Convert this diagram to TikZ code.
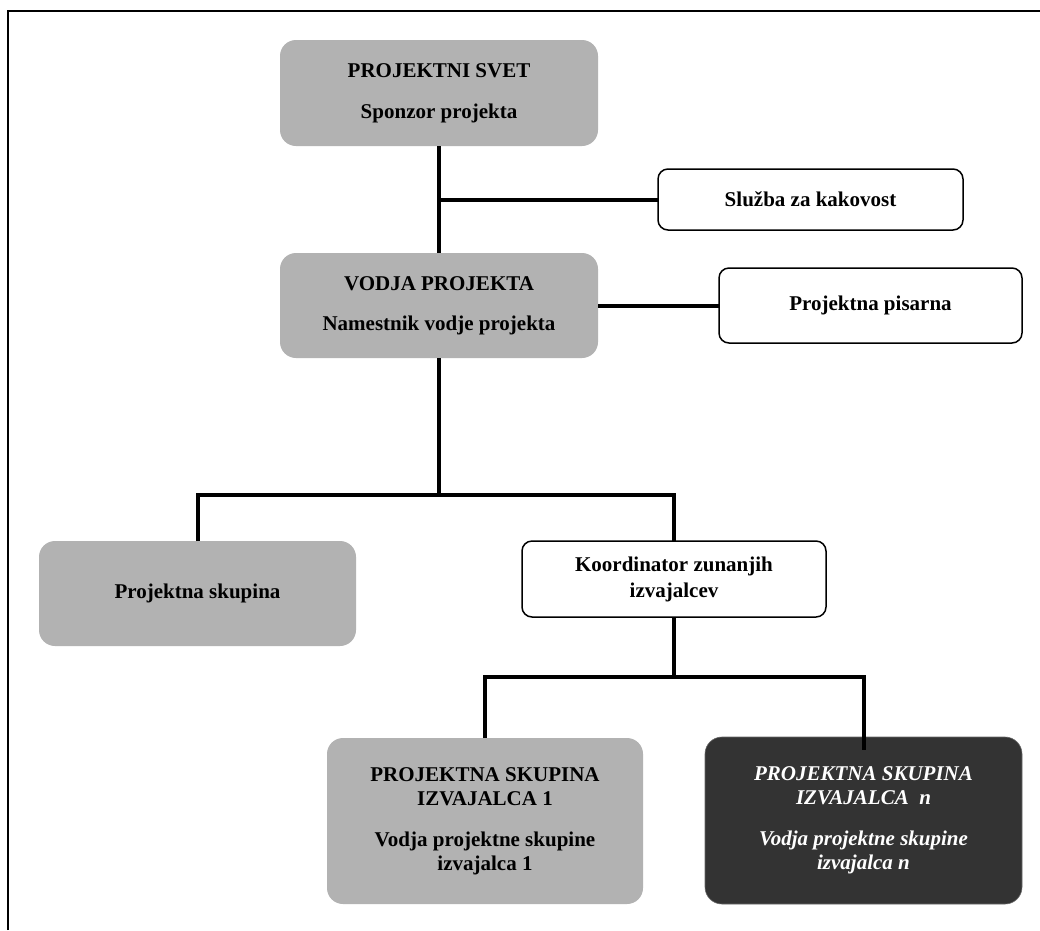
\documentclass[tikz,border=0pt]{standalone}
\usepackage{fontspec}
\setmainfont{Liberation Serif}
\definecolor{boxgray}{HTML}{B2B2B2}
\definecolor{boxdark}{HTML}{333333}
\begin{document}
\begin{tikzpicture}[x=1pt,y=-1pt,
  every node/.style={inner sep=0pt, outer sep=0pt, align=center,
    font=\fontsize{21}{24}\selectfont\bfseries},
  graybox/.style={fill=boxgray, rounded corners=16pt},
  whitebox/.style={fill=white, draw=black, line width=1.5pt, rounded corners=10pt},
  darkbox/.style={fill=boxdark, draw=black!60, line width=0.6pt, rounded corners=17pt,
    text=white, font=\fontsize{21}{24}\selectfont\bfseries\itshape},
  link/.style={line width=4pt, line cap=butt}]
\useasboundingbox (0,0) rectangle (1040,930);
\fill[white] (0,0) rectangle (1040,930);
% outer frame (top and left edges)
\draw[line width=2.6pt] (8,930) -- (8,11) -- (1040,11);

% boxes
\node[graybox, minimum width=318, minimum height=106] (svet) at (439,93)
  {PROJEKTNI SVET\\[17pt]Sponzor projekta};
\node[whitebox, minimum width=305, minimum height=61] (sluzba) at (810.5,199.5)
  {Služba za kakovost};
\node[graybox, minimum width=318, minimum height=105] (vodja) at (439,305.5)
  {VODJA PROJEKTA\\[16pt]Namestnik vodje projekta};
\node[whitebox, minimum width=303, minimum height=75] (pisarna) at (870.5,305.5)
  {Projektna pisarna};
\node[graybox, minimum width=317, minimum height=105] (skupina) at (197.5,593.5)
  {Projektna skupina};
\node[whitebox, minimum width=304, minimum height=76] (koord) at (674,579)
  {Koordinator zunanjih\\[2pt]izvajalcev};
\node[graybox, minimum width=316, minimum height=166] (izv1) at (485,821)
  {PROJEKTNA SKUPINA\\IZVAJALCA 1\\[17pt]Vodja projektne skupine\\izvajalca 1};
\node[darkbox, minimum width=317, minimum height=167] (izvn) at (863.5,820.5)
  {PROJEKTNA SKUPINA\\IZVAJALCA~ n\\[17pt]Vodja projektne skupine\\izvajalca n};

% junctions
\coordinate (j1) at (440,495);
\coordinate (j2) at (672,677);

% connectors
\draw[link] (svet.south) -- (vodja.north);
\draw[link] (svet.south |- sluzba.west) -- (sluzba.west);
\draw[link] (vodja.east) -- (pisarna.west);
\draw[link] (vodja.south) -- (vodja.south |- j1);
\draw[link] (skupina.north) |- (j1) -| (koord.north);
\draw[link] (koord.south) -- (koord.south |- j2);
\draw[link] (izv1.north) |- (j2) -| ([yshift=-13pt]izvn.north);
\end{tikzpicture}
\end{document}
